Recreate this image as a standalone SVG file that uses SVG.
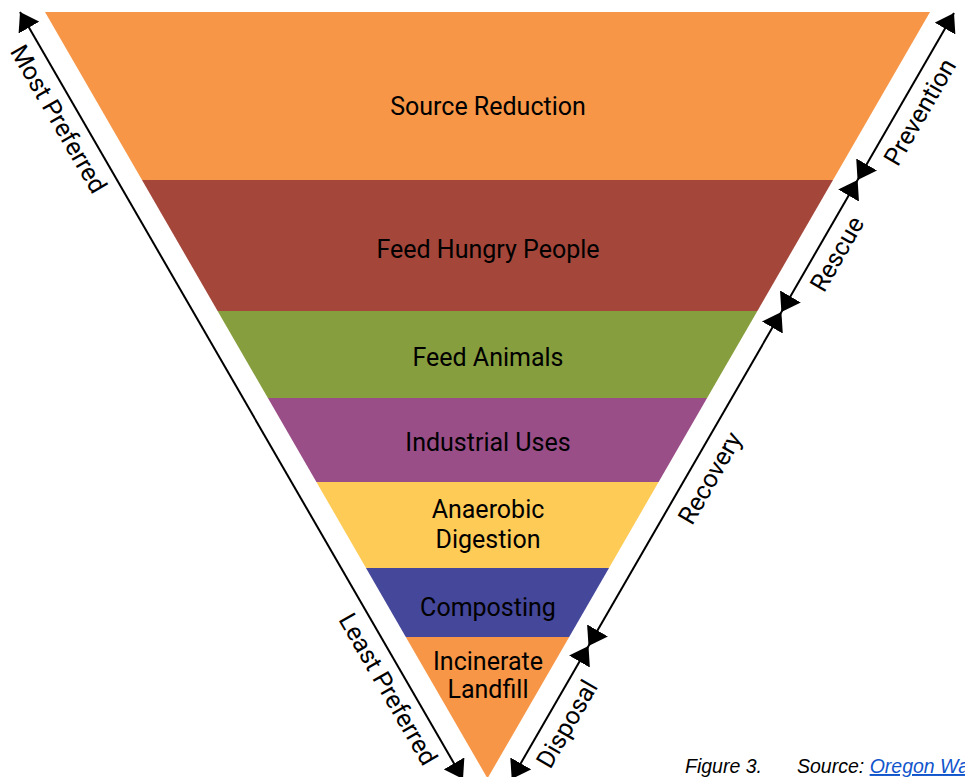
<svg xmlns="http://www.w3.org/2000/svg" width="965" height="777" viewBox="0 0 965 777">
  <style>
    .band { stroke: none; }
    .label { font-family: Roboto, "Liberation Sans", sans-serif; font-size: 25px; fill: #000; text-anchor: middle; }
    .side { font-family: Roboto, "Liberation Sans", sans-serif; font-size: 25px; fill: #000; text-anchor: middle; dominant-baseline: central; }
    .arrow { stroke: #000; stroke-width: 2; fill: none; marker-start: url(#head); marker-end: url(#head); }
    .caption { font-family: "Liberation Sans", Arial, sans-serif; font-size: 19.5px; font-style: italic; fill: #000; }
    .link { fill: #1155cc; text-decoration: underline; }
  </style>
  <defs>
    <marker id="head" viewBox="0 0 18 24" refX="18" refY="12" markerWidth="18" markerHeight="24" markerUnits="userSpaceOnUse" orient="auto-start-reverse">
      <path d="M0,0 L18,12 L0,24 Z" fill="#000"/>
    </marker>
  </defs>
  <rect width="965" height="777" fill="#fff"/>

  <!-- inverted pyramid, one band per tier -->
  <g id="source-reduction">
    <polygon class="band" points="45,12 930,12 833,180 142,180" fill="#f79646"/>
    <text class="label" x="488" y="115">Source Reduction</text>
  </g>
  <g id="feed-hungry-people">
    <polygon class="band" points="142,180 833,180 757.4,311 217.6,311" fill="#a5463a"/>
    <text class="label" x="488" y="258">Feed Hungry People</text>
  </g>
  <g id="feed-animals">
    <polygon class="band" points="217.6,311 757.4,311 707.1,398 267.9,398" fill="#869e3d"/>
    <text class="label" x="488" y="366">Feed Animals</text>
  </g>
  <g id="industrial-uses">
    <polygon class="band" points="267.9,398 707.1,398 658.6,482 316.4,482" fill="#9a4e87"/>
    <text class="label" x="488" y="451">Industrial Uses</text>
  </g>
  <g id="anaerobic-digestion">
    <polygon class="band" points="316.4,482 658.6,482 609,568 366,568" fill="#fecb57"/>
    <text class="label" x="488" y="518">Anaerobic</text>
    <text class="label" x="488" y="548">Digestion</text>
  </g>
  <g id="composting">
    <polygon class="band" points="366,568 609,568 569.2,637 405.8,637" fill="#45479b"/>
    <text class="label" x="488" y="616">Composting</text>
  </g>
  <g id="incinerate-landfill">
    <polygon class="band" points="405.8,637 569.2,637 487.5,778.4" fill="#f79646"/>
    <text class="label" x="488" y="670">Incinerate</text>
    <text class="label" x="488" y="698">Landfill</text>
  </g>

  <!-- scale arrows along both sides -->
  <g id="connectors">
    <line class="arrow" x1="20" y1="12" x2="463" y2="779"/>
    <line class="arrow" x1="954" y1="13" x2="857.6" y2="180"/>
    <line class="arrow" x1="857.6" y1="180" x2="781.4" y2="312"/>
    <line class="arrow" x1="781.4" y1="312" x2="588.5" y2="646"/>
    <line class="arrow" x1="588.5" y1="646" x2="511.7" y2="779"/>
  </g>

  <g id="side-labels">
    <text class="side" transform="translate(58.5,119) rotate(60)">Most Preferred</text>
    <text class="side" transform="translate(388,689) rotate(60)">Least Preferred</text>
    <text class="side" transform="translate(920,112) rotate(-60)">Prevention</text>
    <text class="side" transform="translate(837,254) rotate(-60)">Rescue</text>
    <text class="side" transform="translate(710,478) rotate(-60)">Recovery</text>
    <text class="side" transform="translate(567,724) rotate(-60)">Disposal</text>
  </g>

  <g id="caption">
    <text class="caption" x="685" y="773">Figure 3.</text>
    <text class="caption" x="797" y="773">Source: <tspan class="link">Oregon Wa</tspan></text>
  </g>
</svg>
